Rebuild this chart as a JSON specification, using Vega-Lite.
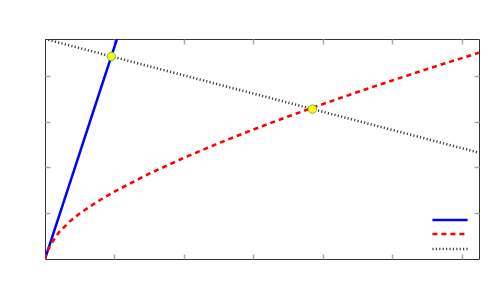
{
  "$schema": "https://vega.github.io/schema/vega-lite/v6.json",
  "width": 434,
  "height": 220,
  "autosize": {"type": "none"},
  "padding": {"left": 45, "top": 39, "right": 21, "bottom": 41},
  "background": "white",
  "config": {
    "view": {"stroke": "#333333", "strokeWidth": 1},
    "axis": {"labels": false, "title": null, "domain": false, "grid": false, "ticks": true, "tickSize": -5, "tickColor": "#aaaaaa", "tickWidth": 1.5}
  },
  "datasets": {
    "curves": [
      {"series": "a", "x": 0, "y": 0},
      {"series": "a", "x": 1.037, "y": 4.8},
      {"series": "b", "x": 0, "y": 0},
      {"series": "b", "x": 0.01, "y": 0.09},
      {"series": "b", "x": 0.03, "y": 0.17},
      {"series": "b", "x": 0.06, "y": 0.25},
      {"series": "b", "x": 0.1, "y": 0.36},
      {"series": "b", "x": 0.2, "y": 0.58},
      {"series": "b", "x": 0.35, "y": 0.81},
      {"series": "b", "x": 0.5, "y": 0.994},
      {"series": "b", "x": 0.75, "y": 1.248},
      {"series": "b", "x": 1, "y": 1.47},
      {"series": "b", "x": 1.5, "y": 1.861},
      {"series": "b", "x": 2, "y": 2.208},
      {"series": "b", "x": 2.5, "y": 2.526},
      {"series": "b", "x": 3, "y": 2.825},
      {"series": "b", "x": 3.5, "y": 3.109},
      {"series": "b", "x": 4, "y": 3.38},
      {"series": "b", "x": 4.5, "y": 3.642},
      {"series": "b", "x": 5, "y": 3.895},
      {"series": "b", "x": 5.5, "y": 4.142},
      {"series": "b", "x": 6, "y": 4.382},
      {"series": "b", "x": 6.25, "y": 4.5},
      {"series": "c", "x": 0, "y": 4.8},
      {"series": "c", "x": 6.25, "y": 2.32}
    ],
    "points": [
      {"x": 0.955, "y": 4.42},
      {"x": 3.85, "y": 3.27}
    ]
  },
  "layer": [
    {
      "data": {"name": "curves"},
      "mark": {"type": "line", "clip": true},
      "encoding": {
        "x": {"field": "x", "type": "quantitative", "scale": {"domain": [0, 6.25], "nice": false, "zero": false}, "axis": {"values": [1, 2, 3, 4, 5, 6]}},
        "y": {"field": "y", "type": "quantitative", "scale": {"domain": [0, 4.8], "nice": false, "zero": false}, "axis": {"values": [1, 2, 3, 4]}},
        "color": {"field": "series", "type": "nominal", "scale": {"domain": ["a", "b", "c"], "range": ["#0000ff", "#ff0000", "#444444"]},
          "legend": {"orient": "bottom-right", "title": null, "labelExpr": "''", "labelFontSize": 10, "labelOffset": 18, "symbolType": "M-3.2,0H3.2", "symbolSize": 121, "offset": 4, "padding": 0, "rowPadding": 2}},
        "strokeDash": {"field": "series", "type": "nominal", "scale": {"domain": ["a", "b", "c"], "range": [[1, 0], [5, 4], [1.2, 2.2]]}},
        "strokeWidth": {"field": "series", "type": "nominal", "scale": {"domain": ["a", "b", "c"], "range": [2.5, 2.6, 1]}}
      }
    },
    {
      "data": {"name": "points"},
      "mark": {"type": "point", "filled": true, "fill": "#ffff00", "stroke": "#66bb55", "strokeWidth": 1, "size": 70, "opacity": 1},
      "encoding": {
        "x": {"field": "x", "type": "quantitative", "axis": {"values": [1, 2, 3, 4, 5, 6]}},
        "y": {"field": "y", "type": "quantitative", "axis": {"values": [1, 2, 3, 4]}}
      }
    }
  ],
  "resolve": {"axis": {"x": "independent", "y": "independent"}}
}
